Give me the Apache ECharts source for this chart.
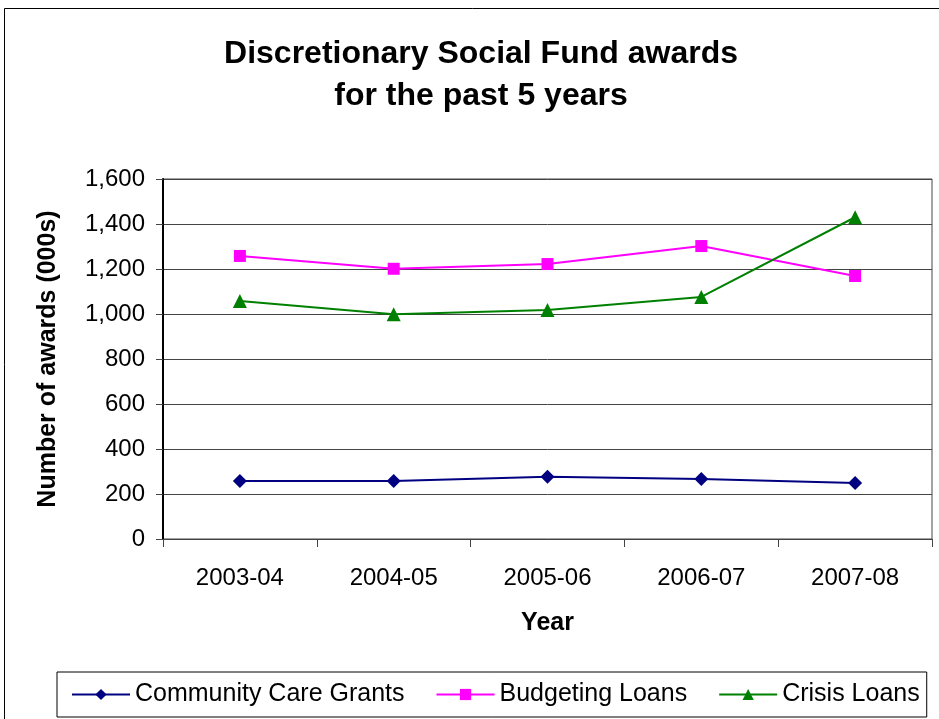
<!DOCTYPE html>
<html>
<head>
<meta charset="utf-8">
<script src="https://cdn.jsdelivr.net/npm/echarts@6/dist/echarts.min.js"></script>
<style>
  html, body { margin: 0; padding: 0; background: #fff; }
  #chart { width: 939px; height: 719px; }
</style>
</head>
<body>
<div id="chart"></div>
<script>
  const years = ['2003-04', '2004-05', '2005-06', '2006-07', '2007-08'];
  const communityCareGrants = [258, 258, 277, 267, 249];
  const budgetingLoans = [1258, 1201, 1222, 1302, 1169];
  const crisisLoans = [1058, 999, 1018, 1076, 1430];

  const font = 'Liberation Sans, Arial, sans-serif';

  const chart = echarts.init(document.getElementById('chart'));
  const option = {
    backgroundColor: '#fff',
    textStyle: { fontFamily: font, color: '#000' },
    graphic: [
      {
        type: 'rect',
        shape: { x: 4.5, y: 8.5, width: 960, height: 760 },
        style: { fill: null, stroke: '#000', lineWidth: 1 }
      }
    ],
    title: {
      text: 'Discretionary Social Fund awards\nfor the past 5 years',
      left: 481,
      textAlign: 'center',
      top: 33,
      padding: 0,
      textStyle: {
        fontFamily: font,
        fontSize: 32,
        fontWeight: 'bold',
        color: '#000',
        lineHeight: 42
      }
    },
    legend: {
      top: 672,
      left: 57,
      width: 875,
      itemGap: 31,
      itemWidth: 58,
      itemHeight: 14,
      borderColor: '#000',
      borderWidth: 1,
      padding: [10, 7, 10, 14],
      textStyle: { fontFamily: font, fontSize: 25, color: '#000' }
    },
    grid: {
      left: 163,
      right: 7,
      top: 179,
      bottom: 180,
      show: true,
      borderColor: '#444',
      borderWidth: 1
    },
    xAxis: {
      type: 'category',
      data: years,
      name: 'Year',
      nameLocation: 'middle',
      nameGap: 72,
      nameTextStyle: { fontFamily: font, fontSize: 25, fontWeight: 'bold', color: '#000' },
      axisLine: { lineStyle: { color: '#444', width: 1 } },
      axisTick: { show: true, length: 8, lineStyle: { color: '#444' } },
      axisLabel: { fontFamily: font, fontSize: 24, color: '#000', margin: 27 }
    },
    yAxis: {
      type: 'value',
      min: 0,
      max: 1600,
      interval: 200,
      name: 'Number of awards (000s)',
      nameLocation: 'middle',
      nameGap: 102,
      nameTextStyle: { fontFamily: font, fontSize: 25, fontWeight: 'bold', color: '#000' },
      axisLine: { show: true, lineStyle: { color: '#000', width: 2 } },
      axisTick: { show: true, length: 7, lineStyle: { color: '#444' } },
      axisLabel: {
        fontFamily: font,
        fontSize: 24,
        color: '#000',
        margin: 18,
        formatter: function (v) { return v.toLocaleString('en-US'); }
      },
      splitLine: { show: true, lineStyle: { color: '#444', width: 1 } }
    },
    series: [
      {
        name: 'Community Care Grants',
        type: 'line',
        data: communityCareGrants,
        symbol: 'diamond',
        symbolSize: 14,
        color: '#000080',
        lineStyle: { width: 2 }
      },
      {
        name: 'Budgeting Loans',
        type: 'line',
        data: budgetingLoans,
        symbol: 'rect',
        symbolSize: 12,
        color: '#ff00ff',
        lineStyle: { width: 2 }
      },
      {
        name: 'Crisis Loans',
        type: 'line',
        data: crisisLoans,
        symbol: 'triangle',
        symbolSize: 14,
        color: '#008000',
        lineStyle: { width: 2 }
      }
    ]
  };
  chart.setOption(option);

  window.addEventListener('resize', function () {
    chart.resize();
  });
</script>
</body>
</html>
